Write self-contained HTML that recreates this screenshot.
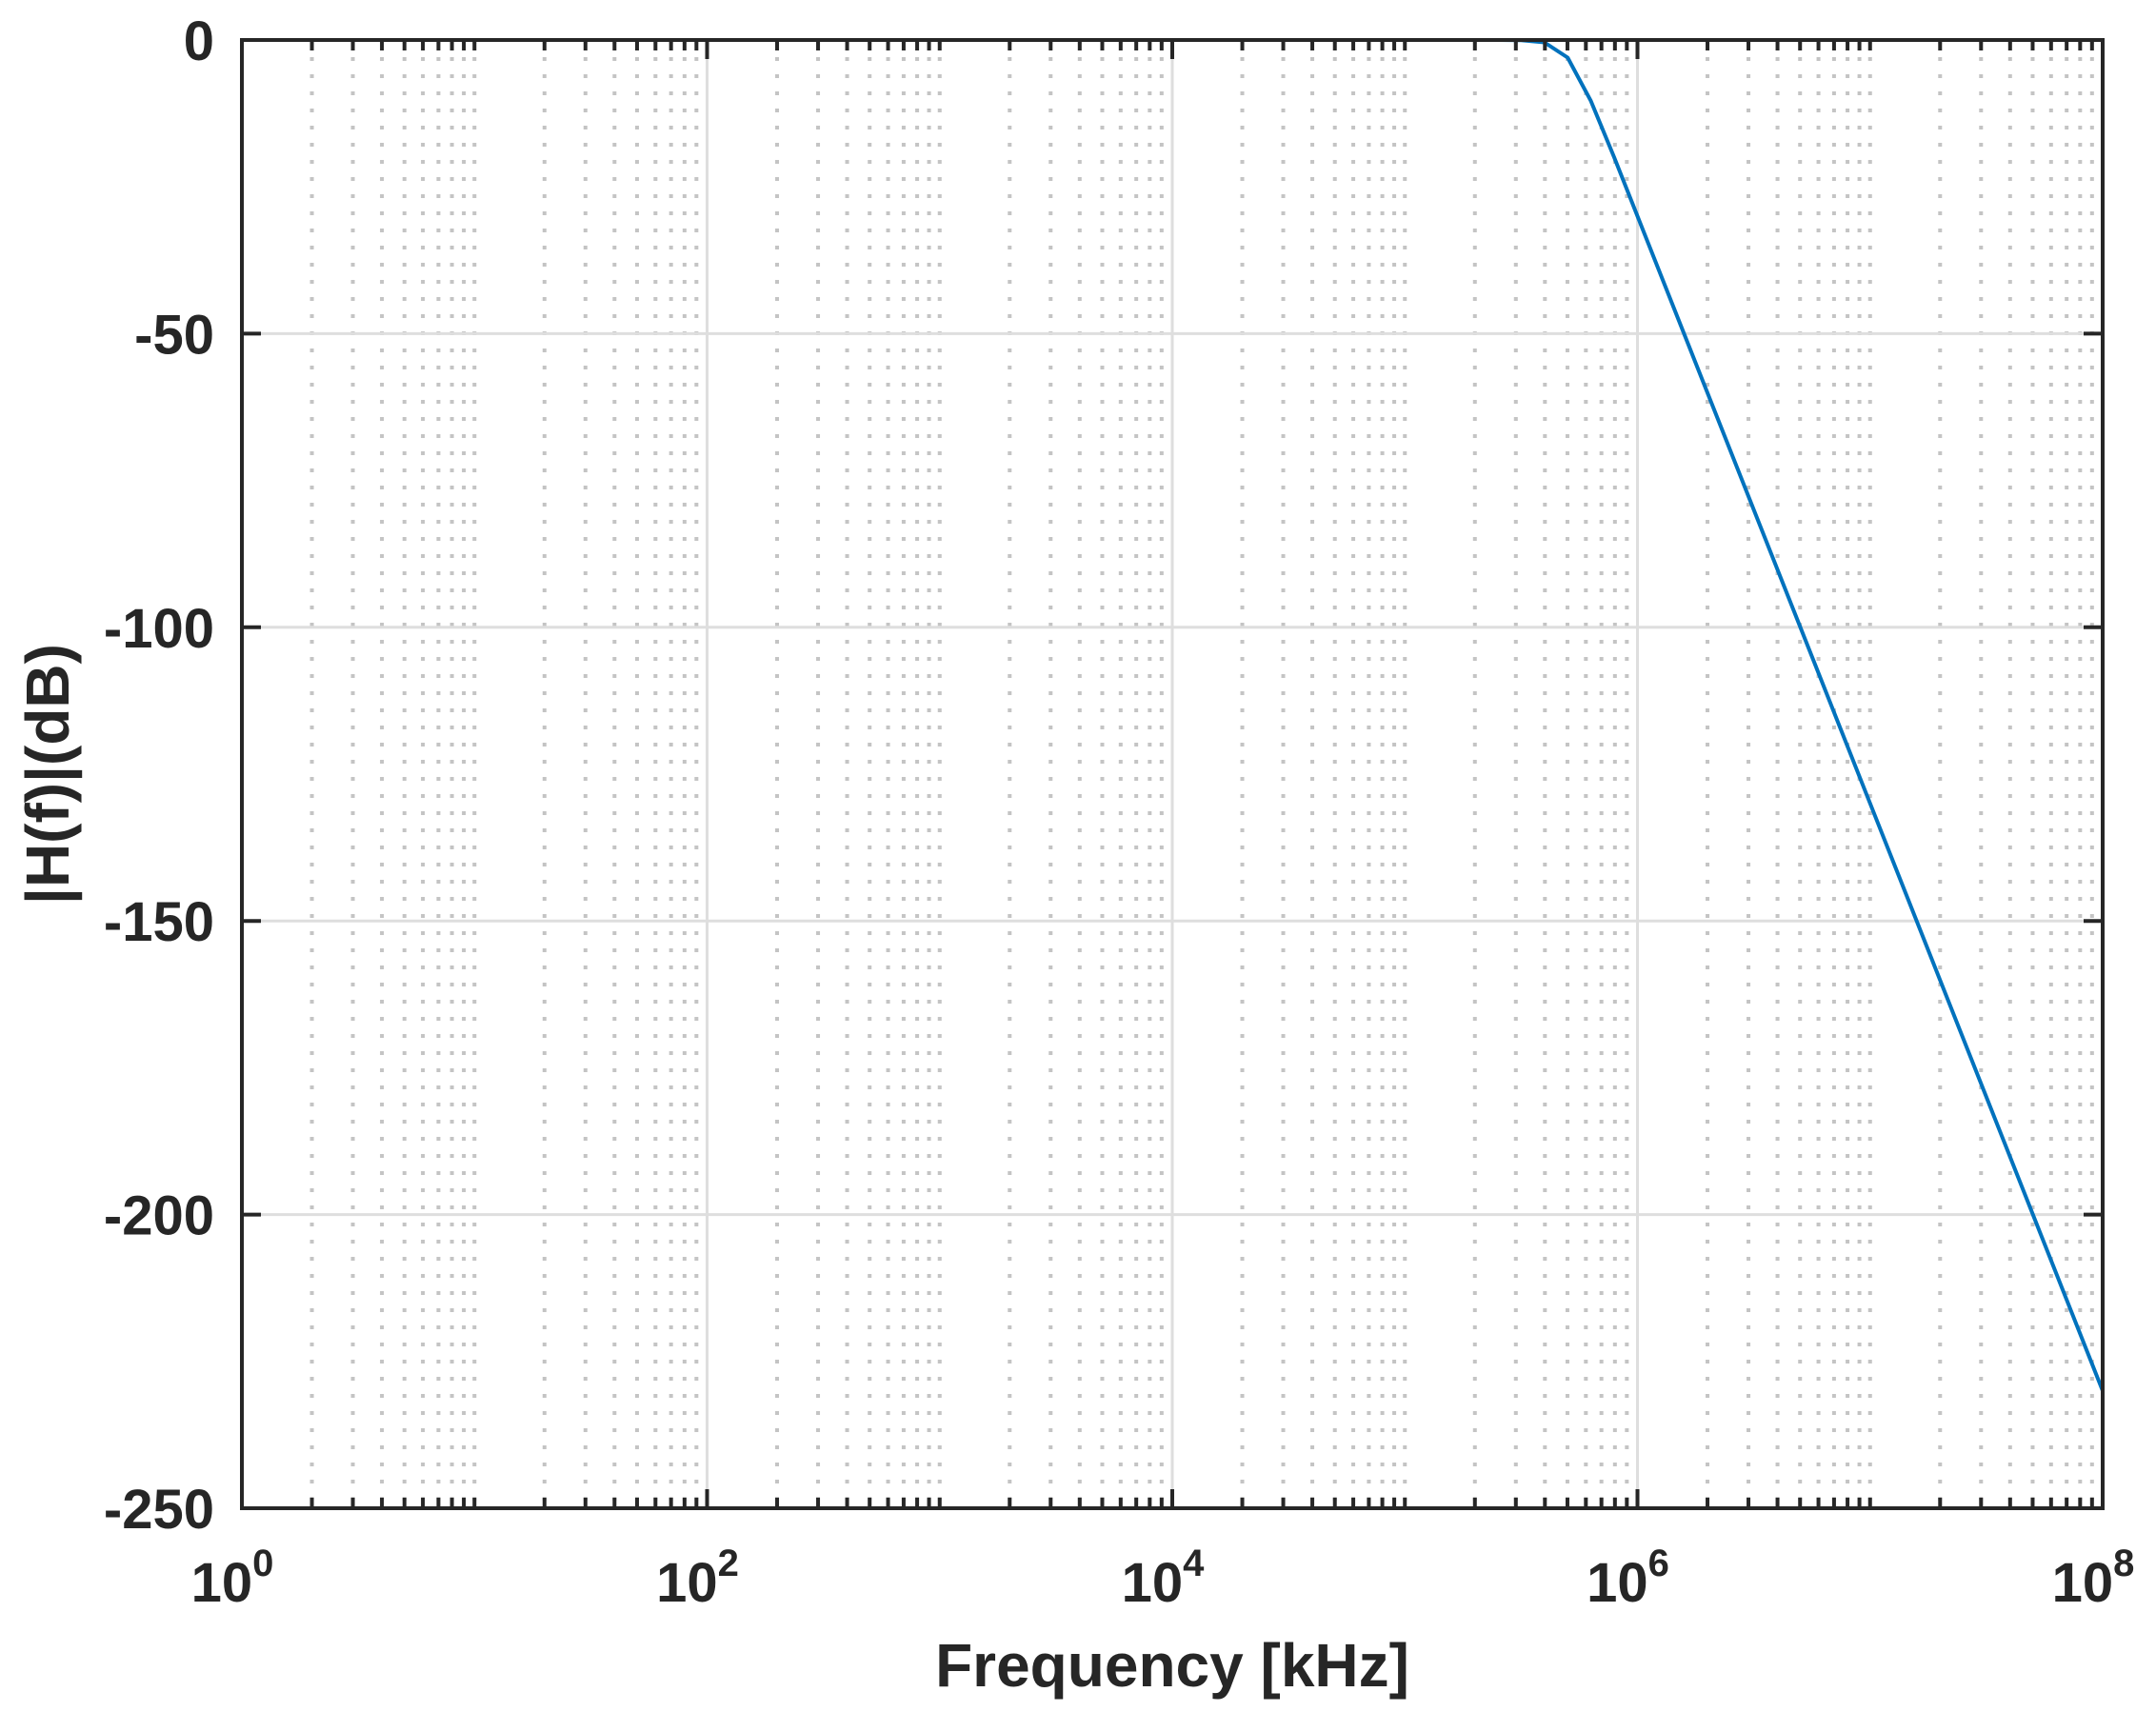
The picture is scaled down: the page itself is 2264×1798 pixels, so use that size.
<!DOCTYPE html>
<html><head><meta charset="utf-8"><style>
html,body{margin:0;padding:0;background:#fff;}
svg{display:block;}
text{font-family:"Liberation Sans",Arial,sans-serif;font-weight:bold;fill:#262626;}
</style></head><body>
<svg id="chart" width="2264" height="1798" viewBox="0 0 2264 1798" xmlns="http://www.w3.org/2000/svg">
<g id="grid"></g>
<g id="series"></g>
<g id="axes"></g>
<text x="1231" y="1771" font-size="64" text-anchor="middle">Frequency [kHz]</text>
<text transform="translate(72,813) rotate(-90)" font-size="64" text-anchor="middle">|H(f)|(dB)</text>
</svg>
<script>
const xDecades = [0, 2, 4, 6, 8];
const yTicks = [0, -50, -100, -150, -200, -250];
const yTickLabels = ["0", "-50", "-100", "-150", "-200", "-250"];
const freqExp = [0, 5.4, 5.5, 5.6, 5.7, 5.8, 5.9, 6.0, 7.0, 8.0];
const magDb = [0, 0, -0.04, -0.41, -3.0, -10.4, -20.0, -30.0, -130.0, -230.0];

const L = 254, R = 2208, T = 42, B = 1584;
const xMin = 0, xMax = 8, yMin = -250, yMax = 0;
const NS = "http://www.w3.org/2000/svg";
function xs(e) { return L + (e - xMin) / (xMax - xMin) * (R - L); }
function ys(v) { return T + (yMax - v) / (yMax - yMin) * (B - T); }
function mk(tag, attrs, parent) {
  const el = document.createElementNS(NS, tag);
  for (const k in attrs) el.setAttribute(k, attrs[k]);
  parent.appendChild(el);
  return el;
}
const grid = document.getElementById('grid');
const axes = document.getElementById('axes');
const series = document.getElementById('series');

// minor grid + minor ticks
for (let d = xMin; d < xMax; d++) {
  for (let m = 2; m <= 10; m++) {
    const e = d + Math.log10(m);
    if (m === 10 && xDecades.includes(d + 1)) continue;
    const x = xs(e);
    const g = mk('line', {x1: x, x2: x, y1: T, y2: B, stroke: '#c4c4c4', 'stroke-width': 4, 'stroke-dasharray': '4 14'}, grid);
    
    
    const t1 = mk('line', {x1: x, x2: x, y1: B, y2: B - 11, stroke: '#262626', 'stroke-width': 4}, axes);
    
    
    const t2 = mk('line', {x1: x, x2: x, y1: T, y2: T + 11, stroke: '#262626', 'stroke-width': 4}, axes);
    
    
  }
}
// major x grid, ticks, labels
xDecades.forEach(function (d) {
  const x = xs(d);
  if (d !== xMin && d !== xMax) {
    const g = mk('line', {x1: x, x2: x, y1: T, y2: B, stroke: '#dedede', 'stroke-width': 3}, grid);
    
    
  }
  const t1 = mk('line', {x1: x, x2: x, y1: B, y2: B - 20, stroke: '#262626', 'stroke-width': 4}, axes);
  
  
  const t2 = mk('line', {x1: x, x2: x, y1: T, y2: T + 20, stroke: '#262626', 'stroke-width': 4}, axes);
  
  
  const lab = mk('text', {x: x - 10, y: 1682, 'font-size': 58, 'text-anchor': 'middle'}, axes);
  
  
  lab.textContent = '10';
  const sup = mk('tspan', {'font-size': 40, dy: -27}, lab);
  sup.textContent = String(d);
});
// y grid, ticks, labels
yTicks.forEach(function (v, i) {
  const y = ys(v);
  if (v !== yMin && v !== yMax) {
    const g = mk('line', {x1: L, x2: R, y1: y, y2: y, stroke: '#dedede', 'stroke-width': 3}, grid);
    
    
  }
  const t1 = mk('line', {x1: L, x2: L + 20, y1: y, y2: y, stroke: '#262626', 'stroke-width': 4}, axes);
  
  
  const t2 = mk('line', {x1: R, x2: R - 20, y1: y, y2: y, stroke: '#262626', 'stroke-width': 4}, axes);
  
  
  const lab = mk('text', {x: 225, y: y + 21, 'font-size': 58, 'text-anchor': 'end'}, axes);
  
  
  lab.textContent = yTickLabels[i];
});
// frame
const frame = mk('rect', {x: L, y: T, width: R - L, height: B - T, fill: 'none', stroke: '#262626', 'stroke-width': 4}, axes);


// series
const pts = freqExp.map(function (e, i) { return xs(e).toFixed(1) + ',' + ys(magDb[i]).toFixed(1); }).join(' ');
const line = mk('polyline', {points: pts, fill: 'none', stroke: '#0072BD', 'stroke-width': 4, 'stroke-linejoin': 'round'}, series);


</script>
</body></html>
